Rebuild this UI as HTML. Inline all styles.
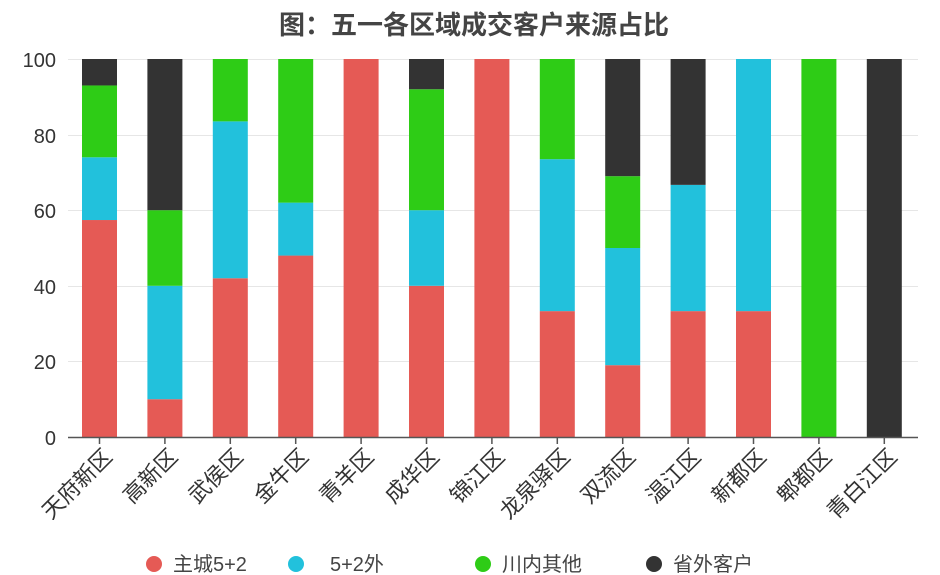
<!DOCTYPE html>
<html><head><meta charset="utf-8"><style>
body{margin:0;background:#fff;}
svg{display:block;font-family:"Liberation Sans","Noto Sans CJK SC",sans-serif;}
</style></head><body>
<svg width="940" height="575" viewBox="0 0 940 575">
<text x="474" y="34" text-anchor="middle" font-size="26" font-weight="bold" fill="#444">图：五一各区域成交客户来源占比</text>
<g stroke="#e6e6e6" stroke-width="1">
<line x1="68" x2="918" y1="59.5" y2="59.5"/>
<line x1="68" x2="918" y1="135.5" y2="135.5"/>
<line x1="68" x2="918" y1="210.5" y2="210.5"/>
<line x1="68" x2="918" y1="286.5" y2="286.5"/>
<line x1="68" x2="918" y1="361.5" y2="361.5"/>
</g>
<g font-size="20" fill="#333" text-anchor="end">
<text x="56" y="67">100</text><text x="56" y="143">80</text><text x="56" y="218">60</text>
<text x="56" y="294">40</text><text x="56" y="369">20</text><text x="56" y="445">0</text>
</g>
<g id="bars"></g>
<line x1="68" x2="918" y1="437.5" y2="437.5" stroke="#555" stroke-width="1.5"/>
<g id="ticks" stroke="#555" stroke-width="1.5"></g>
<g id="labels" font-size="22" fill="#333"></g>
<g font-size="20" fill="#444">
<circle cx="154" cy="564" r="8" fill="#e55a55"/><text x="173" y="571">主城5+2</text>
<circle cx="296" cy="564" r="8" fill="#22c1dc"/><text x="330" y="571">5+2外</text>
<circle cx="483" cy="564" r="8" fill="#2ecc16"/><text x="502" y="571">川内其他</text>
<circle cx="654" cy="564" r="8" fill="#333"/><text x="673" y="571">省外客户</text>
</g>
</svg>
<script>
var names=["天府新区","高新区","武侯区","金牛区","青羊区","成华区","锦江区","龙泉驿区","双流区","温江区","新都区","郫都区","青白江区"];
var d=[[57.4,16.6,19,7],[10,30,20,40],[42,41.5,16.5,0],[48,14,38,0],[100,0,0,0],[40,20,32,8],[100,0,0,0],[33.3,40.2,26.5,0],[19,31,19,31],[33.3,33.4,0,33.3],[33.3,66.7,0,0],[0,0,100,0],[0,0,0,100]];
var cols=["#e55a55","#22c1dc","#2ecc16","#333333"];
var ns="http://www.w3.org/2000/svg";
function el(p,t,a,txt){var e=document.createElementNS(ns,t);for(var k in a)e.setAttribute(k,a[k]);if(txt)e.textContent=txt;document.getElementById(p).appendChild(e);}
for(var i=0;i<13;i++){var cx=99.5+i*65.4;var y=437;
for(var j=0;j<4;j++){var h=d[i][j]*3.78;if(h>0){el("bars","rect",{x:cx-17.5,y:y-h,width:35,height:h,fill:cols[j]});y-=h;}}
el("ticks","line",{x1:cx,x2:cx,y1:437,y2:444});
el("labels","text",{x:0,y:0,"text-anchor":"end",transform:"translate("+(cx+14)+",458) rotate(-45)"},names[i]);}
</script>
</body></html>
